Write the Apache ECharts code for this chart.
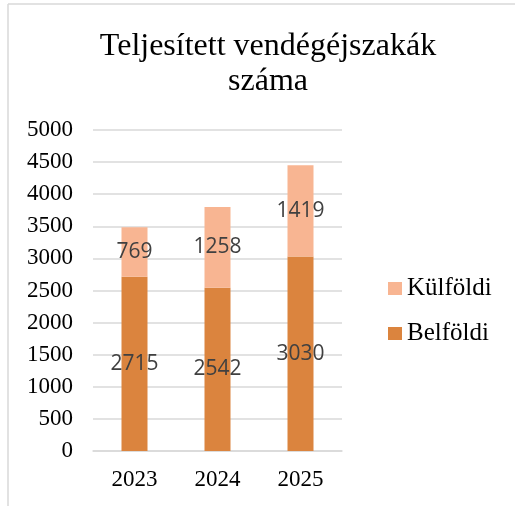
<!DOCTYPE html>
<html>
<head>
<meta charset="utf-8">
<script src="https://cdn.jsdelivr.net/npm/echarts@6/dist/echarts.min.js"></script>
<style>
  html, body { margin: 0; padding: 0; background: #fff; }
  #chart { width: 515px; height: 506px; }
</style>
</head>
<body>
<div id="chart"></div>
<script>
const years = ['2023', '2024', '2025'];
const belfoldi = [2715, 2542, 3030];
const kulfoldi = [769, 1258, 1419];

const serif = '"Liberation Serif", "Times New Roman", serif';
const chart = echarts.init(document.getElementById('chart'));

const option = {
  animation: false,
  title: {
    text: 'Teljesített vendégéjszakák\nszáma',
    left: 263,
    textAlign: 'center',
    top: 24,
    textStyle: {
      fontFamily: serif,
      fontSize: 32,
      fontWeight: 'normal',
      color: '#000',
      lineHeight: 35
    }
  },
  // chart frame (left + top edge)
  graphic: [{
    type: 'line',
    shape: { x1: 8, y1: 4, x2: 8, y2: 506 },
    style: { stroke: '#d9d9d9', lineWidth: 1.5 }
  }, {
    type: 'line',
    shape: { x1: 8, y1: 4, x2: 515, y2: 4 },
    style: { stroke: '#d9d9d9', lineWidth: 1.5 }
  }],
  legend: {
    orient: 'vertical',
    left: 383,
    top: 271,
    itemWidth: 14,
    itemHeight: 13,
    itemGap: 20,
    icon: 'rect',
    data: ['Külföldi', 'Belföldi'],
    textStyle: { fontFamily: serif, fontSize: 25, color: '#000' }
  },
  grid: { left: 93, right: 173, top: 130, bottom: 55 },
  xAxis: {
    type: 'category',
    data: years,
    axisTick: { show: false },
    axisLine: { lineStyle: { color: '#d9d9d9', width: 1.5 } },
    axisLabel: { fontFamily: serif, fontSize: 23, color: '#000', margin: 17 }
  },
  yAxis: {
    type: 'value',
    min: 0,
    max: 5000,
    interval: 500,
    axisLine: { show: false },
    axisTick: { show: false },
    splitLine: { lineStyle: { color: '#d9d9d9', width: 1.5 } },
    axisLabel: {
      fontFamily: serif, fontSize: 23, color: '#000', margin: 20,
      formatter: v => String(v)
    }
  },
  series: [{
    name: 'Belföldi',
    type: 'bar',
    stack: 'total',
    data: belfoldi,
    barWidth: 26,
    itemStyle: { color: '#DB843E' },
    label: {
      show: true,
      position: 'inside',
      fontFamily: '"Open Sans", sans-serif',
      fontSize: 21,
      color: '#404040'
    }
  }, {
    name: 'Külföldi',
    type: 'bar',
    stack: 'total',
    data: kulfoldi,
    barWidth: 26,
    itemStyle: { color: '#F8B592' },
    label: {
      show: true,
      position: 'inside',
      fontFamily: '"Open Sans", sans-serif',
      fontSize: 21,
      color: '#404040'
    }
  }]
};

chart.setOption(option);
</script>
</body>
</html>
